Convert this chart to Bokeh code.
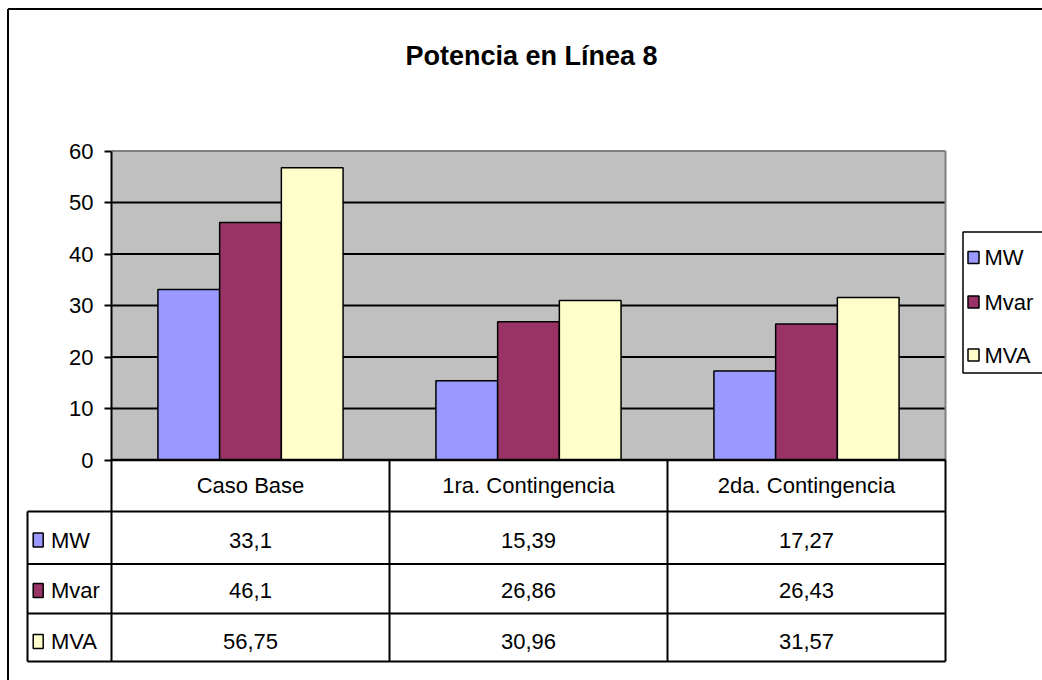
from bokeh.plotting import figure
from bokeh.models import Range1d, LinearAxis, FixedTicker
from bokeh.core.properties import value
from bokeh.embed import file_html
from bokeh.resources import INLINE

# ---- data -------------------------------------------------------------
CATEGORIES = ["Caso Base", "1ra. Contingencia", "2da. Contingencia"]
SERIES = ["MW", "Mvar", "MVA"]
MW = [33.1, 15.39, 17.27]
MVAR = [46.1, 26.86, 26.43]
MVA = [56.75, 30.96, 31.57]
Y_TICKS = [0, 10, 20, 30, 40, 50, 60]
TITLE = "Potencia en Línea 8"

VALUES = [MW, MVAR, MVA]
COLORS = ["#9999FF", "#993366", "#FFFFCC"]

# ---- page geometry (pixels) -------------------------------------------
W, H = 1042, 680
PLOT_L, PLOT_R = 111, 945          # plot area, left / right
PLOT_T, PLOT_B = 150.5, 459.5      # plot area, top (60) / bottom (0)
Y_MAX = 60
UX = (PLOT_R - PLOT_L) / len(CATEGORIES)
UY = (PLOT_B - PLOT_T) / Y_MAX

def dx(px):
    return (px - PLOT_L) / UX

def dy(py):
    return (PLOT_B - py) / UY

FONT = "Liberation Sans"
TXT = "22px"
BLACK = "#000000"

p = figure(width=W, height=H, title=None, toolbar_location=None,
           output_backend="svg", x_axis_type=None, y_axis_type=None,
           x_range=Range1d(dx(0), dx(W)), y_range=Range1d(dy(H), dy(0)),
           min_border=0, outline_line_color=None,
           background_fill_color="white", border_fill_color="white")

# outer chart border
p.segment(x0=[dx(7.5), dx(7.5)], y0=[dy(8.5), dy(8.5)],
          x1=[dx(W + 10), dx(7.5)], y1=[dy(8.5), dy(H + 10)],
          line_color=BLACK, line_width=2)

# title
p.text(x=[dx(531)], y=[dy(55.5)], text=[TITLE], text_align="center",
       text_baseline="middle", text_font=value(FONT),
       text_font_size=value("27px"), text_font_style="bold", text_color=BLACK)

# plot area background
n = len(CATEGORIES)
p.quad(left=[0], right=[n], bottom=[0], top=[Y_MAX],
       fill_color="#C0C0C0", line_color=None)

# horizontal gridlines
grid_y = [t for t in Y_TICKS if 0 < t < Y_MAX]
p.segment(x0=[0] * len(grid_y), x1=[n] * len(grid_y), y0=grid_y, y1=grid_y,
          line_color=BLACK, line_width=2)

# plot area top / right border
p.segment(x0=[0, n], y0=[Y_MAX, Y_MAX], x1=[n, n], y1=[Y_MAX, 0],
          line_color="#808080", line_width=2)

# bars
BAR_W = 0.222
offsets = [-BAR_W, 0.0, BAR_W]
for vals, col, off in zip(VALUES, COLORS, offsets):
    xs = [i + 0.5 + off for i in range(n)]
    p.vbar(x=xs, top=vals, bottom=0, width=BAR_W, fill_color=col,
           line_color=BLACK, line_width=1.5)

# value axis
yax = LinearAxis(fixed_location=0, bounds=(0, Y_MAX),
                 ticker=FixedTicker(ticks=Y_TICKS))
yax.axis_line_color = BLACK
yax.axis_line_width = 2
yax.major_tick_line_color = BLACK
yax.major_tick_line_width = 2
yax.major_tick_in = 0
yax.major_tick_out = 7
yax.minor_tick_line_color = None
yax.major_label_standoff = 11
yax.major_label_text_font = FONT
yax.major_label_text_font_size = TXT
yax.major_label_text_color = BLACK
p.add_layout(yax, "left")

# ---- data table below the plot ------------------------------------------
ROW_LINES = [511, 563.5, 613, 661]      # bottom of header, then each row
TABLE_L = 27

# horizontal rules
p.segment(x0=[0], y0=[0], x1=[n], y1=[0], line_color=BLACK, line_width=2.5)
p.segment(x0=[dx(TABLE_L)] * len(ROW_LINES), x1=[n] * len(ROW_LINES),
          y0=[dy(v) for v in ROW_LINES], y1=[dy(v) for v in ROW_LINES],
          line_color=BLACK, line_width=2)
# vertical rules
col_x = list(range(n + 1))
p.segment(x0=col_x, x1=col_x, y0=[0] * len(col_x),
          y1=[dy(ROW_LINES[-1])] * len(col_x), line_color=BLACK, line_width=2)
p.segment(x0=[dx(TABLE_L)], x1=[dx(TABLE_L)], y0=[dy(ROW_LINES[0])],
          y1=[dy(ROW_LINES[-1])], line_color=BLACK, line_width=2)

# header row: category names
p.text(x=[i + 0.5 for i in range(n)], y=[dy(485)] * n, text=CATEGORIES,
       text_align="center", text_baseline="middle",
       text_font=value(FONT), text_font_size=value(TXT), text_color=BLACK)

# data rows
ROW_MID = [539.5, 590, 641]
def fmt(v):
    return f"{v:g}".replace(".", ",")

for name, vals, col, mid in zip(SERIES, VALUES, COLORS, ROW_MID):
    p.text(x=[i + 0.5 for i in range(n)], y=[dy(mid)] * n,
           text=[fmt(v) for v in vals], text_align="center",
           text_baseline="middle", text_font=value(FONT),
           text_font_size=value(TXT), text_color=BLACK)
    p.rect(x=[dx(37.7)], y=[dy(mid)], width=10, height=14,
           width_units="screen", height_units="screen",
           fill_color=col, line_color=BLACK, line_width=1.5)
    p.text(x=[dx(50.5)], y=[dy(mid)], text=[name], text_align="left",
           text_baseline="middle", text_font=value(FONT),
           text_font_size=value(TXT), text_color=BLACK)

# ---- legend -------------------------------------------------------------
p.quad(left=[dx(962.5)], right=[dx(W + 20)], top=[dy(231.5)],
       bottom=[dy(372.5)], fill_color="white", line_color=BLACK,
       line_width=1.5)
LEG_MID = [257, 301.5, 354.5]
for name, col, mid in zip(SERIES, COLORS, LEG_MID):
    p.rect(x=[dx(973)], y=[dy(mid)], width=11, height=12,
           width_units="screen", height_units="screen",
           fill_color=col, line_color=BLACK, line_width=1.5)
    p.text(x=[dx(984)], y=[dy(mid)], text=[name], text_align="left",
           text_baseline="middle", text_font=value(FONT),
           text_font_size=value(TXT), text_color=BLACK)

open("out.html", "w").write(file_html(p, INLINE))
